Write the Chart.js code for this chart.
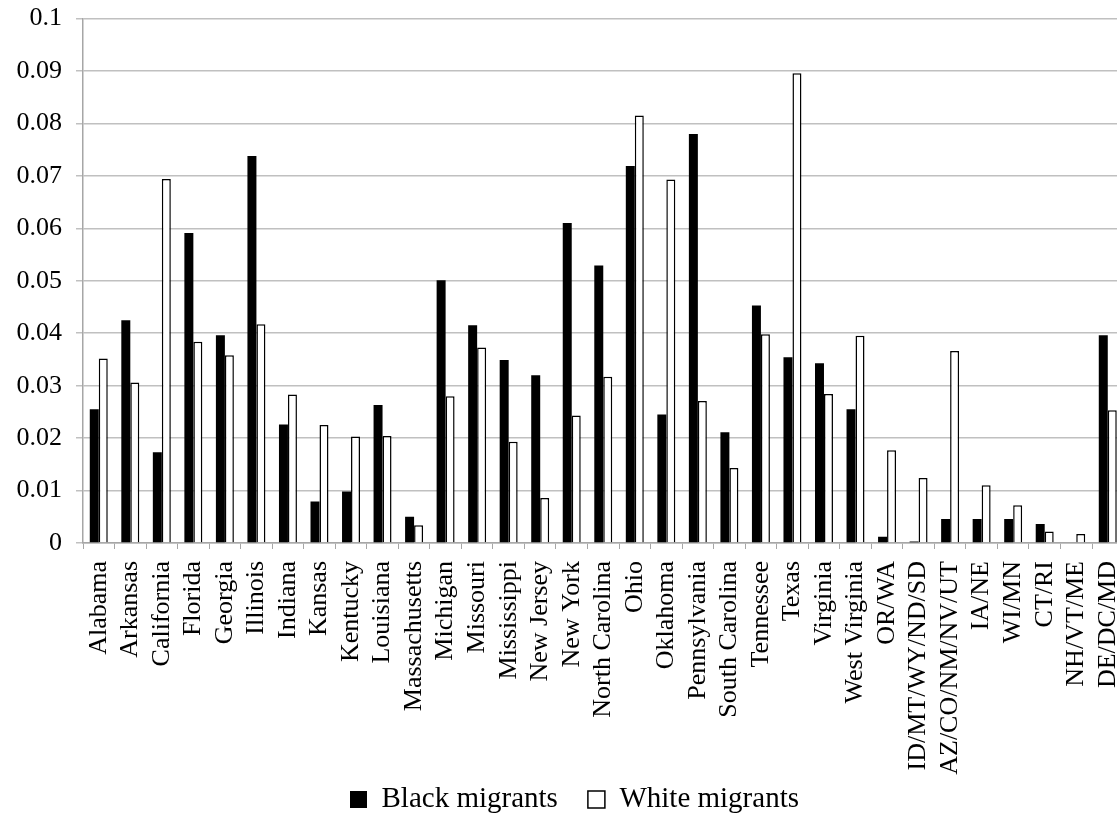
<!DOCTYPE html>
<html lang="en">
<head>
  <meta charset="UTF-8">
  <title>Black and White Migrants by State</title>
  <script src="https://cdn.jsdelivr.net/npm/chart.js"></script>
  <style>
    html, body {
      margin: 0;
      padding: 0;
      background: #fff;
      overflow: hidden;
    }
    .chart-container {
      width: 1151px;
      height: 862px;
      margin-top: -11px;
    }
  </style>
</head>
<body>
  <div class="chart-container">
    <canvas id="migrantChart"></canvas>
  </div>

  <script>
    const states = [
      "Alabama", "Arkansas", "California", "Florida", "Georgia", "Illinois",
      "Indiana", "Kansas", "Kentucky", "Louisiana", "Massachusetts", "Michigan",
      "Missouri", "Mississippi", "New Jersey", "New York", "North Carolina", "Ohio",
      "Oklahoma", "Pennsylvania", "South Carolina", "Tennessee", "Texas", "Virginia",
      "West Virginia", "OR/WA", "ID/MT/WY/ND/SD", "AZ/CO/NM/NV/UT", "IA/NE", "WI/MN",
      "CT/RI", "NH/VT/ME", "DE/DC/MD"
    ];

    const blackMigrants = [
      0.0255, 0.0425, 0.0173, 0.0591, 0.0396, 0.0738,
      0.0226, 0.0079, 0.0098, 0.0263, 0.0050, 0.0501,
      0.0415, 0.0349, 0.0320, 0.0610, 0.0529, 0.0719,
      0.0245, 0.0780, 0.0211, 0.0453, 0.0354, 0.0343,
      0.0255, 0.0012, 0.0003, 0.0046, 0.0046, 0.0046,
      0.0036, 0.0000, 0.0396
    ];

    const whiteMigrants = [
      0.0352, 0.0306, 0.0694, 0.0384, 0.0358, 0.0417,
      0.0283, 0.0225, 0.0203, 0.0204, 0.0034, 0.0280,
      0.0373, 0.0193, 0.0086, 0.0243, 0.0317, 0.0815,
      0.0693, 0.0271, 0.0143, 0.0398, 0.0896, 0.0284,
      0.0395, 0.0177, 0.0124, 0.0366, 0.0110, 0.0072,
      0.0022, 0.0017, 0.0253
    ];

    const serif = "'Liberation Serif', 'Times New Roman', serif";

    // legend padding also sets the gap between items, so pull the box up a bit
    const legendLift = {
      id: 'legendLift',
      afterLayout(chart) {
        chart.legend.top -= 24;
        chart.legend.bottom -= 24;
      }
    };

    new Chart(document.getElementById("migrantChart"), {
      type: 'bar',
      data: {
        labels: states,
        datasets: [
          {
            label: "Black migrants",
            data: blackMigrants,
            backgroundColor: "#000",
            borderColor: "#000",
            borderWidth: 0,
            categoryPercentage: 0.57,
            barPercentage: 1.0
          },
          {
            label: "White migrants",
            data: whiteMigrants,
            backgroundColor: "#fff",
            borderColor: "#000",
            borderWidth: 1.5,
            categoryPercentage: 0.57,
            barPercentage: 1.0
          }
        ]
      },
      options: {
        responsive: true,
        maintainAspectRatio: false,
        animation: false,
        layout: {
          padding: { top: 5, right: 2, bottom: 3, left: 0 }
        },
        plugins: {
          tooltip: { enabled: false },
          legend: {
            position: 'bottom',
            labels: {
              color: '#000',
              font: { family: serif, size: 29 },
              boxWidth: 17,
              boxHeight: 17,
              padding: 30
            }
          }
        },
        scales: {
          x: {
            afterFit: scale => { scale.height = 236; },
            grid: {
              drawOnChartArea: false,
              color: '#a6a6a6',
              tickLength: 6
            },
            border: { color: '#a6a6a6', width: 1.5 },
            ticks: {
              color: '#000',
              font: { family: serif, size: 26 },
              minRotation: 90,
              maxRotation: 90,
              autoSkip: false,
              padding: 12
            }
          },
          y: {
            min: 0,
            max: 0.1,
            afterFit: scale => { scale.width = 83; },
            grid: {
              color: '#c0c0c0',
              lineWidth: 1.5,
              tickLength: 7
            },
            border: { color: '#a6a6a6', width: 1.5 },
            ticks: {
              stepSize: 0.01,
              color: '#000',
              font: { family: serif, size: 26 },
              padding: 14,
              callback: val => String(+val.toFixed(2))
            }
          }
        }
      },
      plugins: [legendLift]
    });
  </script>
</body>
</html>
